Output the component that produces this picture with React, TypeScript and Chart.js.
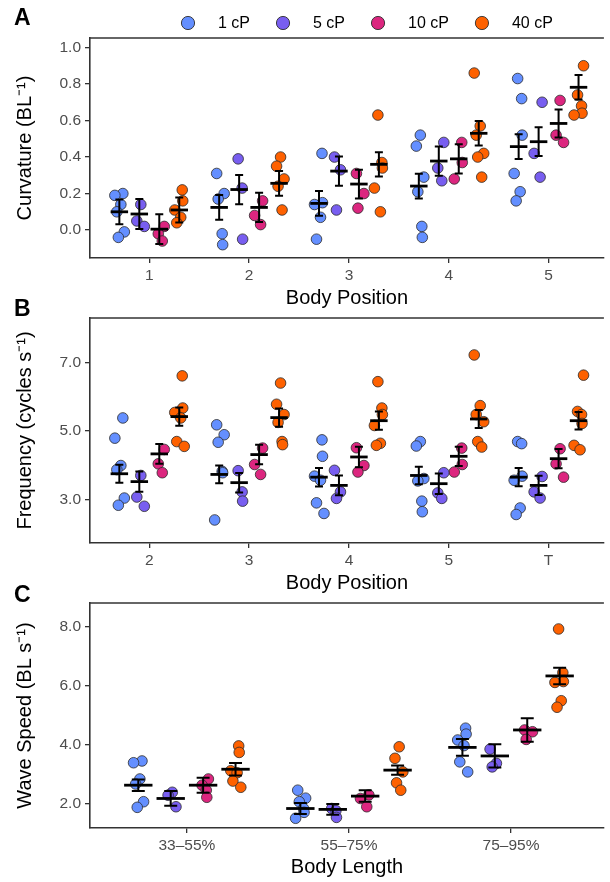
import React, { useEffect, useRef } from "react";
import { Chart, registerables } from "chart.js";
Chart.register(...registerables);

// ---------- shared ----------
const SERIES = ["1 cP", "5 cP", "10 cP", "40 cP"];
const COLORS = ["#648FFF", "#785EF0", "#DC267F", "#FE6100"];

// ---------- Panel A: curvature ----------
const curvLabels = ["1", "2", "3", "4", "5"];
const curvTicks = [0.0, 0.2, 0.4, 0.6, 0.8, 1.0];
const curv1cP = [
  [0.2, 0.19, 0.14, 0.1, -0.01, -0.04],
  [0.31, 0.2, 0.17, -0.02, -0.08],
  [0.42, 0.15, 0.14, 0.07, -0.05],
  [0.52, 0.46, 0.29, 0.21, 0.02, -0.04],
  [0.83, 0.72, 0.52, 0.31, 0.21, 0.16],
];
const curv5cP = [
  [0.14, 0.05, 0.02],
  [0.39, 0.23, -0.05],
  [0.4, 0.33, 0.11],
  [0.48, 0.34, 0.27],
  [0.7, 0.42, 0.29],
];
const curv10cP = [
  [0.02, -0.02, -0.06],
  [0.16, 0.08, 0.03],
  [0.31, 0.2, 0.12],
  [0.48, 0.37, 0.28],
  [0.71, 0.52, 0.48],
];
const curv40cP = [
  [0.22, 0.16, 0.11, 0.07, 0.04],
  [0.4, 0.35, 0.28, 0.24, 0.11],
  [0.63, 0.37, 0.34, 0.23, 0.1],
  [0.86, 0.57, 0.52, 0.42, 0.4, 0.29],
  [0.9, 0.74, 0.68, 0.64, 0.63],
];
const curvMean1cP = [0.1, 0.124, 0.146, 0.241, 0.457];
const curvMean5cP = [0.088, 0.222, 0.323, 0.378, 0.484];
const curvMean10cP = [0.005, 0.124, 0.252, 0.39, 0.584];
const curvMean40cP = [0.11, 0.256, 0.36, 0.53, 0.782];
const curvErr1cP = [0.068, 0.068, 0.068, 0.068, 0.068];
const curvErr5cP = [0.082, 0.08, 0.08, 0.08, 0.079];
const curvErr10cP = [0.082, 0.08, 0.079, 0.08, 0.077];
const curvErr40cP = [0.068, 0.068, 0.066, 0.067, 0.067];

// ---------- Panel B: frequency ----------
const freqLabels = ["2", "3", "4", "5", "T"];
const freqTicks = [3.0, 5.0, 7.0];
const freq1cP = [
  [5.38, 4.79, 3.99, 3.87, 3.04, 2.83],
  [5.18, 4.89, 4.67, 3.82, 3.78, 2.4],
  [4.74, 4.26, 3.68, 3.56, 2.9, 2.59],
  [4.69, 4.56, 3.61, 3.54, 2.95, 2.64],
  [4.69, 4.63, 3.68, 3.56, 2.75, 2.56],
];
const freq5cP = [
  [3.7, 3.07, 2.8],
  [3.84, 3.22, 2.95],
  [3.85, 3.22, 3.03],
  [3.78, 3.19, 3.03],
  [3.67, 3.22, 3.04],
];
const freq10cP = [
  [4.46, 4.04, 3.78],
  [4.5, 4.02, 3.73],
  [4.51, 3.99, 3.8],
  [4.5, 4.02, 3.8],
  [4.48, 4.04, 3.65],
];
const freq40cP = [
  [6.61, 5.67, 5.54, 5.38, 4.69, 4.55],
  [6.4, 5.78, 5.48, 5.25, 4.69, 4.6],
  [6.44, 5.67, 5.48, 5.16, 4.64, 4.58],
  [7.22, 5.74, 5.48, 5.27, 4.69, 4.53],
  [6.63, 5.57, 5.48, 5.22, 4.58, 4.45],
];
const freqMean1cP = [3.75, 3.73, 3.65, 3.7, 3.65];
const freqMean5cP = [3.52, 3.49, 3.41, 3.46, 3.41];
const freqMean10cP = [4.33, 4.31, 4.24, 4.26, 4.19];
const freqMean40cP = [5.42, 5.39, 5.3, 5.35, 5.3];
const freqErr1cP = [0.26, 0.26, 0.27, 0.255, 0.265];
const freqErr5cP = [0.295, 0.285, 0.29, 0.3, 0.28];
const freqErr10cP = [0.29, 0.285, 0.3, 0.28, 0.28];
const freqErr40cP = [0.265, 0.265, 0.265, 0.265, 0.255];

// ---------- Panel C: wave speed ----------
const waveLabels = ["33\u201355%", "55\u201375%", "75\u201395%"];
const waveTicks = [2.0, 4.0, 6.0, 8.0];
const wave1cP = [
  [3.46, 3.4, 2.85, 2.68, 2.08, 1.89],
  [2.47, 2.2, 2.08, 1.85, 1.72, 1.52],
  [4.57, 4.37, 4.17, 3.98, 3.43, 3.09],
];
const wave5cP = [
  [2.4, 2.3, 1.91],
  [1.85, 1.78, 1.55],
  [3.86, 3.38, 3.26],
];
const wave10cP = [
  [2.85, 2.64, 2.47, 2.23],
  [2.31, 2.19, 1.91],
  [4.51, 4.45, 4.19],
];
const wave40cP = [
  [3.97, 3.75, 3.13, 3.06, 2.78, 2.57],
  [3.94, 3.55, 3.09, 2.72, 2.47],
  [7.93, 6.45, 6.15, 6.12, 5.5, 5.28],
];
const waveMean1cP = [2.64, 1.85, 3.92];
const waveMean5cP = [2.19, 1.82, 3.63];
const waveMean10cP = [2.64, 2.27, 4.51];
const waveMean40cP = [3.18, 3.15, 6.34];
const waveErr1cP = [0.195, 0.19, 0.28];
const waveErr5cP = [0.25, 0.185, 0.395];
const waveErr10cP = [0.255, 0.195, 0.4];
const waveErr40cP = [0.21, 0.16, 0.28];

// ---------- styling constants ----------
const DODGE = [-0.3, -0.1, 0.1, 0.3];
const JITTER = [0.035, -0.045, 0.015, -0.025, 0.05, -0.01, 0.03];
const MEAN_HALF = 0.0875;
const CAP_HALF = 0.04;
const FONT = "'Liberation Sans', Arial, Helvetica, sans-serif";
const AXIS_COLOR = "#333333";
const TICK_TEXT = "#4d4d4d";

type PanelCfg = {
  letter: string;
  letterY: number;
  points: number[][][];
  means: number[][];
  errs: number[][];
  xLabels: string[];
  xMin: number;
  xMax: number;
  yMin: number;
  yMax: number;
  yTicks: number[];
  yTitle: string;
  xTitle: string;
  padTop: number;
  padBottom: number;
  xAxisH: number;
  jitterScale: number;
  legend: boolean;
};

const meanBarsPlugin = {
  id: "meanBars",
  afterDatasetsDraw(chart: any) {
    const cfg: PanelCfg = chart.options.plugins.meanBars.cfg;
    const xs = chart.scales.x;
    const ys = chart.scales.y;
    const ctx = chart.ctx;
    ctx.save();
    ctx.strokeStyle = "#000";
    ctx.lineCap = "butt";
    cfg.means.forEach((arr, s) => {
      arr.forEach((m, g) => {
        const cx = g + 1 + DODGE[s];
        const e = cfg.errs[s][g];
        const px = xs.getPixelForValue(cx);
        const mL = xs.getPixelForValue(cx - MEAN_HALF);
        const mR = xs.getPixelForValue(cx + MEAN_HALF);
        const cL = xs.getPixelForValue(cx - CAP_HALF);
        const cR = xs.getPixelForValue(cx + CAP_HALF);
        const yM = ys.getPixelForValue(m);
        const yH = ys.getPixelForValue(m + e);
        const yL = ys.getPixelForValue(m - e);
        ctx.lineWidth = 2;
        ctx.beginPath();
        ctx.moveTo(px, yH);
        ctx.lineTo(px, yL);
        ctx.moveTo(cL, yH);
        ctx.lineTo(cR, yH);
        ctx.moveTo(cL, yL);
        ctx.lineTo(cR, yL);
        ctx.stroke();
        ctx.lineWidth = 2.8;
        ctx.beginPath();
        ctx.moveTo(mL, yM);
        ctx.lineTo(mR, yM);
        ctx.stroke();
      });
    });
    ctx.restore();
  },
};

const decorPlugin = {
  id: "decor",
  afterDraw(chart: any) {
    const cfg: PanelCfg = chart.options.plugins.meanBars.cfg;
    const ctx = chart.ctx;
    const { left, right, top } = chart.chartArea;
    ctx.save();
    // top border of the panel box
    ctx.strokeStyle = AXIS_COLOR;
    ctx.lineWidth = 1.6;
    ctx.beginPath();
    ctx.moveTo(left - 0.8, top);
    ctx.lineTo(right, top);
    ctx.stroke();
    // panel letter
    ctx.fillStyle = "#000";
    ctx.font = `bold 23px ${FONT}`;
    ctx.textAlign = "left";
    ctx.textBaseline = "middle";
    ctx.fillText(cfg.letter, 14, cfg.letterY);
    // legend
    if (cfg.legend) {
      ctx.font = `16px ${FONT}`;
      let cx = 188;
      const cy = 23;
      SERIES.forEach((name, s) => {
        ctx.beginPath();
        ctx.arc(cx, cy, 6.6, 0, Math.PI * 2);
        ctx.fillStyle = COLORS[s];
        ctx.fill();
        ctx.lineWidth = 0.9;
        ctx.strokeStyle = "#2b2b2b";
        ctx.stroke();
        ctx.fillStyle = "#000";
        const tx = cx + 30;
        ctx.fillText(name, tx, cy + 1);
        cx = tx + ctx.measureText(name).width + 33;
      });
    }
    ctx.restore();
  },
};

function buildChart(canvas: HTMLCanvasElement, cfg: PanelCfg) {
  const datasets = SERIES.map((name, s) => ({
    type: "scatter" as const,
    label: name,
    data: cfg.points[s].flatMap((vals, g) =>
      vals.map((v, i) => ({
        x: g + 1 + DODGE[s] + JITTER[(i + g * 3 + s * 2) % JITTER.length] * cfg.jitterScale,
        y: v,
      }))
    ),
    backgroundColor: COLORS[s],
    borderColor: "#2b2b2b",
    borderWidth: 0.8,
    pointRadius: 5.3,
    pointHoverRadius: 5.3,
  }));
  const xTickVals = cfg.xLabels.map((_, i) => i + 1);
  return new Chart(canvas, {
    type: "scatter",
    data: { datasets },
    plugins: [meanBarsPlugin, decorPlugin],
    options: {
      responsive: false,
      animation: false,
      events: [],
      layout: { padding: { top: cfg.padTop, left: 0, right: 0, bottom: cfg.padBottom } },
      plugins: {
        legend: { display: false },
        tooltip: { enabled: false },
        meanBars: { cfg },
      } as any,
      scales: {
        x: {
          type: "linear",
          min: cfg.xMin,
          max: cfg.xMax,
          afterBuildTicks: (scale: any) => {
            scale.ticks = xTickVals.map((v) => ({ value: v }));
          },
          afterFit: (scale: any) => {
            scale.height = cfg.xAxisH;
          },
          ticks: {
            autoSkip: false,
            maxRotation: 0,
            padding: 3,
            color: TICK_TEXT,
            font: { family: FONT, size: 15.5 },
            callback: (v: any) => cfg.xLabels[Math.round(Number(v)) - 1] ?? "",
          },
          grid: {
            display: true,
            drawOnChartArea: false,
            drawTicks: true,
            tickLength: 5,
            color: AXIS_COLOR,
            lineWidth: 1.3,
          },
          border: { display: true, color: AXIS_COLOR, width: 1.6 },
          title: {
            display: true,
            text: cfg.xTitle,
            color: "#000",
            font: { family: FONT, size: 20 },
            padding: { top: 0, bottom: 0 },
          },
        },
        y: {
          type: "linear",
          min: cfg.yMin,
          max: cfg.yMax,
          afterBuildTicks: (scale: any) => {
            scale.ticks = cfg.yTicks.map((v) => ({ value: v }));
          },
          afterFit: (scale: any) => {
            scale.width = 90;
          },
          ticks: {
            padding: 4,
            color: TICK_TEXT,
            font: { family: FONT, size: 15.5 },
            callback: (v: any) => Number(v).toFixed(1),
          },
          grid: {
            display: true,
            drawOnChartArea: false,
            drawTicks: true,
            tickLength: 5,
            color: AXIS_COLOR,
            lineWidth: 1.3,
          },
          border: { display: true, color: AXIS_COLOR, width: 1.6 },
          title: {
            display: true,
            text: cfg.yTitle,
            color: "#000",
            font: { family: FONT, size: 20 },
            padding: { top: 13, bottom: 0 },
          },
        },
      },
    } as any,
  });
}

const panelA: PanelCfg = {
  letter: "A",
  letterY: 19,
  points: [curv1cP, curv5cP, curv10cP, curv40cP],
  means: [curvMean1cP, curvMean5cP, curvMean10cP, curvMean40cP],
  errs: [curvErr1cP, curvErr5cP, curvErr10cP, curvErr40cP],
  xLabels: curvLabels,
  xMin: 0.406,
  xMax: 5.554,
  yMin: -0.153,
  yMax: 1.052,
  yTicks: curvTicks,
  yTitle: "Curvature (BL\u207B\u00B9)",
  xTitle: "Body Position",
  padTop: 38,
  padBottom: 0,
  xAxisH: 52,
  jitterScale: 1,
  legend: true,
};

const panelB: PanelCfg = {
  letter: "B",
  letterY: 20,
  points: [freq1cP, freq5cP, freq10cP, freq40cP],
  means: [freqMean1cP, freqMean5cP, freqMean10cP, freqMean40cP],
  errs: [freqErr1cP, freqErr5cP, freqErr10cP, freqErr40cP],
  xLabels: freqLabels,
  xMin: 0.406,
  xMax: 5.554,
  yMin: 1.727,
  yMax: 8.3,
  yTicks: freqTicks,
  yTitle: "Frequency (cycles s\u207B\u00B9)",
  xTitle: "Body Position",
  padTop: 28,
  padBottom: 0,
  xAxisH: 52,
  jitterScale: 1,
  legend: false,
};

const panelC: PanelCfg = {
  letter: "C",
  letterY: 21,
  points: [wave1cP, wave5cP, wave10cP, wave40cP],
  means: [waveMean1cP, waveMean5cP, waveMean10cP, waveMean40cP],
  errs: [waveErr1cP, waveErr5cP, waveErr10cP, waveErr40cP],
  xLabels: waveLabels,
  xMin: 0.402,
  xMax: 3.573,
  yMin: 1.19,
  yMax: 8.81,
  yTicks: waveTicks,
  yTitle: "Wave Speed (BL s\u207B\u00B9)",
  xTitle: "Body Length",
  padTop: 28,
  padBottom: 3,
  xAxisH: 51,
  jitterScale: 0.65,
  legend: false,
};

export default function App() {
  const refA = useRef<HTMLCanvasElement>(null);
  const refB = useRef<HTMLCanvasElement>(null);
  const refC = useRef<HTMLCanvasElement>(null);

  useEffect(() => {
    const charts = [
      buildChart(refA.current!, panelA),
      buildChart(refB.current!, panelB),
      buildChart(refC.current!, panelC),
    ];
    return () => charts.forEach((c) => c.destroy());
  }, []);

  const base: React.CSSProperties = { position: "absolute", left: 0 };
  return (
    <div
      style={{
        position: "fixed",
        left: 0,
        top: 0,
        width: 610,
        height: 882,
        background: "#fff",
        overflow: "hidden",
      }}
    >
      <canvas ref={refA} width={610} height={310} style={{ ...base, top: 0 }} />
      <canvas ref={refB} width={610} height={305} style={{ ...base, top: 290 }} />
      <canvas ref={refC} width={610} height={307} style={{ ...base, top: 575 }} />
    </div>
  );
}
